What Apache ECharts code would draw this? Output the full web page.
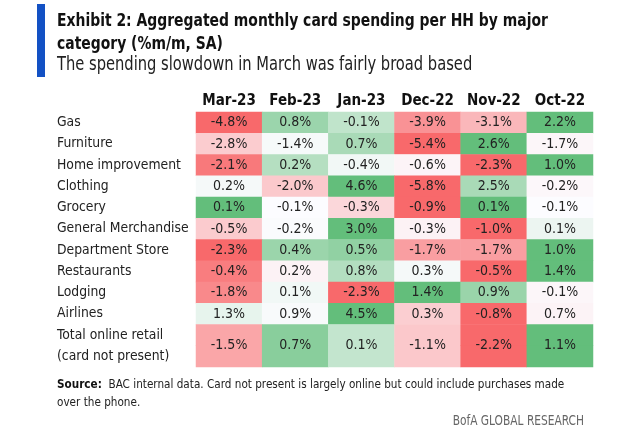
<!DOCTYPE html>
<html>
<head>
<meta charset="utf-8">
<script src="https://cdn.jsdelivr.net/npm/echarts@6/dist/echarts.min.js"></script>
<style>
  html, body { margin: 0; padding: 0; background: #fff; }
  #main { width: 625px; height: 433px; }
</style>
</head>
<body>
<div id="main"></div>
<script>
// months across the top, categories down the side
const months = ['Mar-23', 'Feb-23', 'Jan-23', 'Dec-22', 'Nov-22', 'Oct-22'];
const categories = ['Gas', 'Furniture', 'Home improvement', 'Clothing', 'Grocery',
  'General Merchandise', 'Department Store', 'Restaurants', 'Lodging', 'Airlines',
  'Total online retail\n(card not present)'];

// %m/m, one array per month, in category order
const mar23 = [-4.8, -2.8, -2.1, 0.2, 0.1, -0.5, -2.3, -0.4, -1.8, 1.3, -1.5];
const feb23 = [0.8, -1.4, 0.2, -2.0, -0.1, -0.2, 0.4, 0.2, 0.1, 0.9, 0.7];
const jan23 = [-0.1, 0.7, -0.4, 4.6, -0.3, 3.0, 0.5, 0.8, -2.3, 4.5, 0.1];
const dec22 = [-3.9, -5.4, -0.6, -5.8, -0.9, -0.3, -1.7, 0.3, 1.4, 0.3, -1.1];
const nov22 = [-3.1, 2.6, -2.3, 2.5, 0.1, -1.0, -1.7, -0.5, 0.9, -0.8, -2.2];
const oct22 = [2.2, -1.7, 1.0, -0.2, -0.1, 0.1, 1.0, 1.4, -0.1, 0.7, 1.1];

const FONT = "'DejaVu Sans Condensed', 'DejaVu Sans', sans-serif";
const GRID = { left: 196, right: 32, top: 112, bottom: 66 };

// excel style 3-colour scale per row, white at the row median
const RED = [248, 105, 107], WHITE = [252, 252, 255], GREEN = [99, 190, 123];
function median(a) {
  const s = a.slice().sort((x, y) => x - y);
  const n = s.length;
  return n % 2 ? s[(n - 1) / 2] : (s[n / 2 - 1] + s[n / 2]) / 2;
}
function mix(c1, c2, t) {
  return 'rgb(' + c1.map((v, i) => Math.round(v + (c2[i] - v) * t)).join(',') + ')';
}
function cellColor(v, row) {
  const lo = Math.min(...row), hi = Math.max(...row), mid = median(row);
  if (v >= mid) return hi === mid ? mix(WHITE, WHITE, 0) : mix(WHITE, GREEN, (v - mid) / (hi - mid));
  return mix(WHITE, RED, (mid - v) / (mid - lo));
}

const columns = [mar23, feb23, jan23, dec22, nov22, oct22];
const slots = [];
const layout = [];
categories.forEach(cat => {
  const lines = cat.split('\n');
  layout.push({ start: slots.length, lines: lines });
  lines.forEach(l => slots.push(l));
});
const band = (433 - GRID.top - GRID.bottom) / slots.length;

const cells = [];
categories.forEach((cat, r) => {
  const row = columns.map(c => c[r]);
  const { start, lines } = layout[r];
  columns.forEach((col, c) => {
    lines.forEach((l, k) => {
      cells.push({
        value: [c, start + k, col[r]],
        itemStyle: { color: cellColor(col[r], row) },
        label: { show: k === 0, offset: [0, (lines.length - 1) * band / 2] }
      });
    });
  });
});

const chart = echarts.init(document.getElementById('main'));
chart.setOption({
  animation: false,
  backgroundColor: '#fff',
  grid: GRID,
  xAxis: {
    type: 'category',
    position: 'top',
    data: months,
    axisLine: { show: false },
    axisTick: { show: false },
    splitLine: { show: false },
    axisLabel: {
      interval: 0, margin: 10.5, verticalAlign: 'middle',
      fontFamily: FONT, fontSize: 15, fontWeight: 'bold', color: '#111'
    }
  },
  yAxis: {
    type: 'category',
    inverse: true,
    data: slots,
    axisLine: { show: false },
    axisTick: { show: false },
    splitLine: { show: false },
    axisLabel: {
      interval: 0, align: 'left', margin: 139,
      fontFamily: FONT, fontSize: 13.8, color: '#222'
    }
  },
  series: [{
    type: 'heatmap',
    data: cells,
    itemStyle: { borderWidth: 0 },
    emphasis: { disabled: true },
    label: {
      show: true,
      fontFamily: FONT, fontSize: 14, color: '#222',
      formatter: p => p.value[2].toFixed(1) + '%'
    }
  }],
  graphic: [
    { type: 'rect', shape: { x: 37, y: 4, width: 8, height: 73 }, style: { fill: '#1351c4' } },
    { type: 'text', x: 57, y: 21, scaleX: 0.86, style: { text: 'Exhibit 2: Aggregated monthly card spending per HH by major',
      font: 'bold 18px ' + FONT, fill: '#111', verticalAlign: 'middle' } },
    { type: 'text', x: 57, y: 44, scaleX: 0.86, style: { text: 'category (%m/m, SA)',
      font: 'bold 18px ' + FONT, fill: '#111', verticalAlign: 'middle' } },
    { type: 'text', x: 57, y: 65.5, scaleX: 0.86, style: { text: 'The spending slowdown in March was fairly broad based',
      font: '19px ' + FONT, fill: '#222', verticalAlign: 'middle' } },
    { type: 'text', x: 57, y: 385, scaleX: 0.895, style: {
      text: '{b|Source:}  BAC internal data. Card not present is largely online but could include purchases made',
      font: '13px ' + FONT, fill: '#222', verticalAlign: 'middle',
      rich: { b: { fontFamily: FONT, fontSize: 13, fontWeight: 'bold', fill: '#111' } } } },
    { type: 'text', x: 57, y: 403, scaleX: 0.895, style: { text: 'over the phone.',
      font: '13px ' + FONT, fill: '#222', verticalAlign: 'middle' } },
    { type: 'text', x: 584, y: 421, scaleX: 0.845, style: { text: 'BofA GLOBAL RESEARCH',
      font: '14px ' + FONT, fill: '#666', align: 'right', verticalAlign: 'middle' } }
  ]
});
</script>
</body>
</html>
